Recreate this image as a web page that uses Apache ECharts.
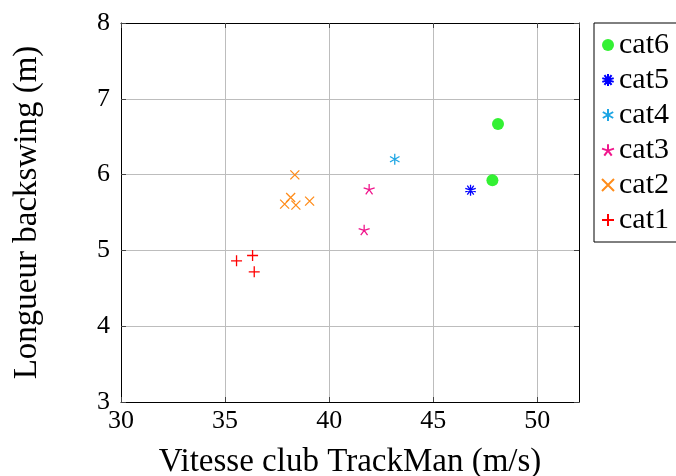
<!DOCTYPE html>
<html><head><meta charset="utf-8">
<script src="https://cdn.jsdelivr.net/npm/echarts@6/dist/echarts.min.js"></script>
<style>html,body{margin:0;padding:0;background:#fff}#c{width:676px;height:476px}</style>
</head><body><div id="c"></div>
<script>
const cat1X = [35.55, 36.32, 36.40];
const cat1Y = [4.863, 4.933, 4.718];
const cat2X = [38.35, 38.15, 37.86, 38.40, 39.06];
const cat2Y = [5.996, 5.697, 5.610, 5.597, 5.650];
const cat3X = [41.92, 41.68];
const cat3Y = [5.808, 5.271];
const cat4X = [43.15];
const cat4Y = [6.203];
const cat5X = [46.79];
const cat5Y = [5.795];
const cat6X = [48.11, 47.84];
const cat6Y = [6.669, 5.926];
const xTicks = [30, 35, 40, 45, 50];
const yTicks = [3, 4, 5, 6, 7, 8];
const legendOrder = ['cat6', 'cat5', 'cat4', 'cat3', 'cat2', 'cat1'];

const FONT = 'Liberation Serif';
const sym = {
  plus: 'path://M0,5L10,5M5,0L5,10',
  cross: 'path://M0,0L10,10M0,10L10,0',
  asterisk: 'path://M5,0L5,10M0.67,2.5L9.33,7.5M0.67,7.5L9.33,2.5',
  star: 'path://M5,5L5,0M5,5L9.755,3.455M5,5L7.939,9.045M5,5L2.061,9.045M5,5L0.245,3.455',
  star10: 'path://M5,0L5,10M7.94,0.955L2.06,9.045M9.755,3.455L0.245,6.545M9.755,6.545L0.245,3.455M7.94,9.045L2.06,0.955'
};
function zip(xs, ys) { return xs.map((x, i) => [x, ys[i]]); }
function strokeSeries(name, xs, ys, symbol, color, size) {
  return {
    name, type: 'scatter', data: zip(xs, ys), symbol, symbolSize: size, symbolKeepAspect: true,
    itemStyle: { color: 'rgba(0,0,0,0)', borderColor: color, borderWidth: 1.3, opacity: 1 },
    emphasis: { disabled: true }
  };
}
const series = [
  strokeSeries('cat1', cat1X, cat1Y, sym.plus, '#ff0000', 11),
  strokeSeries('cat2', cat2X, cat2Y, sym.cross, '#ff8c1a', 9),
  strokeSeries('cat3', cat3X, cat3Y, sym.star, '#f0168c', 11),
  strokeSeries('cat4', cat4X, cat4Y, sym.asterisk, '#1fa6e4', 11),
  strokeSeries('cat5', cat5X, cat5Y, sym.star10, '#0000ff', 11),
  { name: 'cat6', type: 'scatter', data: zip(cat6X, cat6Y), symbol: 'circle', symbolSize: 12,
    itemStyle: { color: '#00ee00' }, emphasis: { disabled: true } }
];
const axisLineStyle = { lineStyle: { color: '#000', width: 1 } };
const tickStyle = { show: true, inside: true, length: 5, lineStyle: { color: '#444', width: 1 } };
const chart = echarts.init(document.getElementById('c'), null, { renderer: 'canvas' });
chart.setOption({
  animation: false,
  backgroundColor: '#fff',
  grid: { left: 121, right: 97, top: 23, bottom: 74, containLabel: false, outerBoundsMode: 'none' },
  legend: {
    data: legendOrder, orient: 'vertical', left: 594, top: 23,
    padding: [7, 10, 7, 7], itemWidth: 12, itemHeight: 12, itemGap: 5,
    borderColor: '#000', borderWidth: 1, borderRadius: 0,
    textStyle: { fontFamily: FONT, fontSize: 30, color: '#000' }
  },
  xAxis: [{
    type: 'value', min: 30, max: 52, interval: 5,
    name: 'Vitesse club TrackMan (m/s)', nameLocation: 'middle', nameGap: 44,
    nameTextStyle: { fontFamily: FONT, fontSize: 33, color: '#000' },
    axisLine: axisLineStyle, axisTick: tickStyle,
    axisLabel: { fontFamily: FONT, fontSize: 26, color: '#000', margin: 6,
      showMaxLabel: false, formatter: v => xTicks.includes(v) ? String(v) : '' },
    splitLine: { show: true, lineStyle: { color: '#bdbdbd', width: 1 } }
  }, {
    type: 'value', min: 30, max: 52, interval: 5, position: 'top',
    axisLine: { show: true, lineStyle: { color: '#000', width: 1 } }, axisTick: tickStyle,
    axisLabel: { show: false }, splitLine: { show: false }
  }],
  yAxis: [{
    type: 'value', min: 3, max: 8, interval: 1,
    name: 'Longueur backswing (m)', nameLocation: 'middle', nameGap: 77, nameRotate: 90,
    nameTextStyle: { fontFamily: FONT, fontSize: 33, color: '#000' },
    axisLine: { show: true, lineStyle: { color: '#000', width: 1 } }, axisTick: tickStyle,
    axisLabel: { fontFamily: FONT, fontSize: 26, color: '#000', margin: 11,
      formatter: v => yTicks.includes(v) ? String(v) : '' },
    splitLine: { show: true, lineStyle: { color: '#bdbdbd', width: 1 } }
  }, {
    type: 'value', min: 3, max: 8, interval: 1, position: 'right',
    axisLine: { show: true, lineStyle: { color: '#000', width: 1 } }, axisTick: tickStyle,
    axisLabel: { show: false }, splitLine: { show: false }
  }],
  series
});
</script></body></html>
